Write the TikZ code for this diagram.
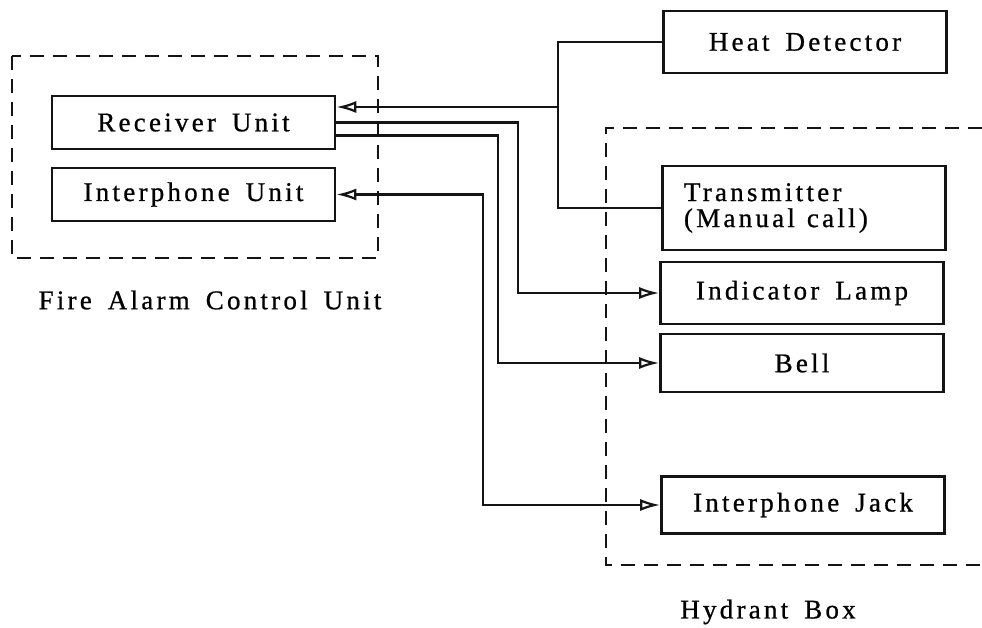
\documentclass[tikz,border=0pt]{standalone}
\usepackage{fontspec}
\setmainfont{Liberation Serif}[LetterSpace=12, WordSpace=1.6, FakeBold=0.8]
\usepackage{tikz}
\usetikzlibrary{arrows.meta}
\definecolor{inkblack}{RGB}{20, 20, 20}

\begin{document}
\begin{tikzpicture}[x=1pt, y=-1pt,
    unitbox/.style={draw=inkblack, line width=2.6pt, minimum width=283pt,
      minimum height=53pt, font=\fontsize{27}{26}\selectfont},
    groupframe/.style={draw=inkblack, line width=1.9pt, dash pattern=on 14pt off 9pt},
    wire/.style={inkblack, line width=2.2pt},
    feedarrow/.style={-{Latex[open, length=20pt, width=12pt]}},
    bothways/.style={{Latex[open, length=20pt, width=12pt]}-{Latex[open, length=20pt, width=12pt]}}]
  \useasboundingbox (0,0) rectangle (982,627);

  % Fire alarm control unit (left) and hydrant box (right, open edge)
  \draw[groupframe] (12,56) rectangle (378,258);
  \draw[groupframe] (982,128) -| (606,565) -- (982,565);
  \node[font=\fontsize{27}{26}\selectfont] (facu) at (210,300) {Fire Alarm Control Unit};
  \node[font=\fontsize{27}{26}\selectfont] (hbox) at (768,612) {Hydrant Box};

  % units
  \node[unitbox] (recv) at (193.5,122.5) {Receiver Unit};
  \node[unitbox] (iphu) at (193.5,194.5) {Interphone Unit};
  \node[unitbox, minimum height=62pt] (heat) at (805,42) {Heat Detector};
  \node[unitbox, minimum height=84pt, align=left, text width=240pt] (trans) at (804,208)
    {Transmitter\\(Manual\hspace{12pt}call)};
  \node[unitbox, minimum height=62pt] (lamp) at (802,293) {Indicator Lamp};
  \node[unitbox, minimum height=58pt] (bell) at (802,363) {Bell};
  \node[unitbox, minimum height=57pt] (jack) at (803,505) {Interphone Jack};

  % wiring
  \coordinate (tap) at (558,107);
  \draw[wire] (heat.west) -| (tap) |- (trans.west);
  \draw[wire, feedarrow] (tap) -- (recv.east |- tap);
  \draw[wire, feedarrow] (recv.east) -- ++(182,0) |- (lamp.west);
  \draw[wire, feedarrow] ([yshift=-13pt]recv.east) -- ++(162,0) |- (bell.west);
  \draw[wire, bothways] (iphu.east) -- ++(147,0) |- (jack.west);
\end{tikzpicture}
\end{document}
